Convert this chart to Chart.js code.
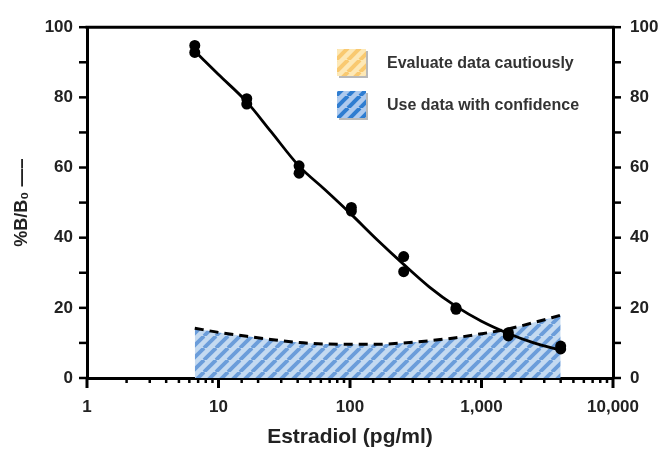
<!DOCTYPE html>
<html>
<head>
<meta charset="utf-8">
<script src="https://cdn.jsdelivr.net/npm/chart.js@4.4.1/dist/chart.umd.min.js"></script>
<style>
  html, body { margin: 0; padding: 0; background: #ffffff; }
  #wrap { width: 664px; height: 462px; }
</style>
</head>
<body>
<div id="wrap"><canvas id="c" width="664" height="462"></canvas></div>
<script>
// ---- data ----
const standards  = [6.6, 16.4, 41, 102.4, 256, 640, 1600, 4000];
const replicateA = [94.8, 79.6, 60.5, 48.6, 34.6, 20.0, 12.9, 9.1];
const replicateB = [92.8, 78.1, 58.4, 47.6, 30.3, 19.6, 12.0, 8.3];

const curveX = [6.6, 10, 16.4, 25, 41, 64, 100, 160, 256, 400, 640, 1000, 1600, 2500, 4000];
const curveY = [93.2, 86.5, 78.7, 70.3, 60.4, 53.8, 47.0, 39.5, 32.4, 26.0, 20.4, 16.2, 12.7, 10.0, 7.9];
const limitY = [14.2, 13.0, 11.9, 11.0, 10.1, 9.7, 9.6, 9.6, 10.0, 10.6, 11.5, 12.6, 14.0, 15.8, 17.9];

const legendLabels = ['Evaluate data cautiously', 'Use data with confidence'];
const xTitle = 'Estradiol (pg/ml)';
const yTitle = '%B/B\u2080 \u2014\u2013';

// ---- patterns ----
function makePattern(bg, fg, size, lw) {
  const c = document.createElement('canvas');
  c.width = size; c.height = size;
  const g = c.getContext('2d');
  g.fillStyle = bg; g.fillRect(0, 0, size, size);
  g.strokeStyle = fg; g.lineWidth = lw;
  for (const k of [-size, 0, size]) {
    g.beginPath(); g.moveTo(k, size); g.lineTo(k + size, 0); g.stroke();
  }
  return g.createPattern(c, 'repeat');
}
const ctx = document.getElementById('c').getContext('2d');
const bluePat = makePattern('#c4daf1', '#6b9dda', 12, 3.8);
const blueLegendPat = makePattern('#aecaee', '#2f7dd1', 12, 4);
const yellowPat = makePattern('#fde8b6', '#f9c970', 12, 4);

const FONT = "'Liberation Sans', Arial, Helvetica, sans-serif";

const pts = (xs, ys) => xs.map((x, i) => ({ x: x, y: ys[i] }));

// ---- plugins ----
const frame = {
  id: 'frame',
  afterDraw(chart) {
    const { ctx, chartArea: a, scales } = chart;
    ctx.save();
    ctx.strokeStyle = '#000';
    ctx.lineWidth = 3;
    ctx.beginPath(); ctx.moveTo(a.left - 1.5, a.top); ctx.lineTo(a.right + 1.5, a.top); ctx.stroke();
    ctx.lineWidth = 2.5;
    for (const t of scales.y.ticks) {
      const py = scales.y.getPixelForValue(t.value);
      ctx.beginPath(); ctx.moveTo(a.left - 8, py); ctx.lineTo(a.left, py); ctx.stroke();
    }
    for (const t of scales.y2.ticks) {
      const py = scales.y2.getPixelForValue(t.value);
      ctx.beginPath(); ctx.moveTo(a.right, py); ctx.lineTo(a.right + 8, py); ctx.stroke();
    }
    for (const t of scales.x.ticks) {
      const px = scales.x.getPixelForValue(t.value);
      const lg = Math.log10(t.value);
      const major = Math.abs(lg - Math.round(lg)) < 1e-9;
      ctx.lineWidth = major ? 3 : 2.5;
      ctx.beginPath(); ctx.moveTo(px, a.bottom); ctx.lineTo(px, a.bottom + (major ? 10 : 5)); ctx.stroke();
    }
    const items = [
      { pat: yellowPat, text: legendLabels[0], y: 49 },
      { pat: blueLegendPat, text: legendLabels[1], y: 91 }
    ];
    for (const it of items) {
      ctx.fillStyle = '#b9b9b9';
      ctx.fillRect(339, it.y + 2, 29, 27);
      ctx.fillStyle = it.pat;
      ctx.fillRect(337, it.y, 29, 27);
      ctx.fillStyle = '#333';
      ctx.font = 'bold 16px ' + FONT;
      ctx.textBaseline = 'middle';
      ctx.textAlign = 'left';
      ctx.fillText(it.text, 387, it.y + 15);
    }
    ctx.restore();
  }
};

new Chart(ctx, {
  type: 'line',
  data: {
    datasets: [
      {
        label: 'Standards A',
        data: pts(standards, replicateA),
        showLine: false,
        pointRadius: 5.5,
        pointBackgroundColor: '#000',
        pointBorderColor: '#000',
        pointBorderWidth: 0,
        order: 0
      },
      {
        label: 'Standards B',
        data: pts(standards, replicateB),
        showLine: false,
        pointRadius: 5.5,
        pointBackgroundColor: '#000',
        pointBorderColor: '#000',
        pointBorderWidth: 0,
        order: 0
      },
      {
        label: 'Fit',
        data: pts(curveX, curveY),
        borderColor: '#000',
        borderWidth: 2.8,
        pointRadius: 0,
        cubicInterpolationMode: 'monotone',
        fill: false,
        order: 1
      },
      {
        label: 'Limit',
        data: pts(curveX, limitY),
        borderColor: '#000',
        borderWidth: 3,
        borderDash: [9, 6],
        pointRadius: 0,
        cubicInterpolationMode: 'monotone',
        fill: 'origin',
        backgroundColor: bluePat,
        order: 2
      }
    ]
  },
  options: {
    responsive: false,
    animation: false,
    devicePixelRatio: 1,
    layout: { padding: { top: 27, left: 0, right: 0, bottom: 0 } },
    plugins: { legend: { display: false }, tooltip: { enabled: false } },
    scales: {
      x: {
        type: 'logarithmic',
        position: 'bottom',
        min: 1, max: 10000,
        grid: { display: false, drawTicks: false },
        border: { display: true, color: '#000', width: 3 },
        ticks: {
          autoSkip: false, maxRotation: 0, padding: 19,
          color: '#222',
          font: { family: FONT, size: 17, weight: 'bold' },
          callback: function (v) {
            const lg = Math.log10(v);
            return Math.abs(lg - Math.round(lg)) < 1e-9 ? Number(v).toLocaleString('en-US') : '';
          }
        },
        title: {
          display: true, text: xTitle, color: '#222',
          font: { family: FONT, size: 21, weight: 'bold' },
          padding: { top: 0, bottom: 12 }
        },
        afterFit(s) { s.height = 84; }
      },
      y: {
        type: 'linear', position: 'left',
        min: 0, max: 100,
        grid: { display: false, drawTicks: false },
        border: { display: true, color: '#000', width: 3 },
        ticks: {
          stepSize: 10, padding: 14, color: '#222',
          font: { family: FONT, size: 17, weight: 'bold' },
          callback: v => (v % 20 === 0 ? String(v) : '')
        },
        title: {
          display: true, text: yTitle, color: '#222',
          font: { family: FONT, size: 18, weight: 'bold' },
          padding: { top: 11, bottom: 0 }
        },
        afterFit(s) { s.width = 87; }
      },
      y2: {
        type: 'linear', position: 'right',
        min: 0, max: 100,
        grid: { display: false, drawTicks: false },
        border: { display: true, color: '#000', width: 3 },
        ticks: {
          stepSize: 10, padding: 17, color: '#222',
          font: { family: FONT, size: 17, weight: 'bold' },
          callback: v => (v % 20 === 0 ? String(v) : '')
        },
        afterFit(s) { s.width = 51; }
      }
    }
  },
  plugins: [frame]
});
</script>
</body>
</html>
